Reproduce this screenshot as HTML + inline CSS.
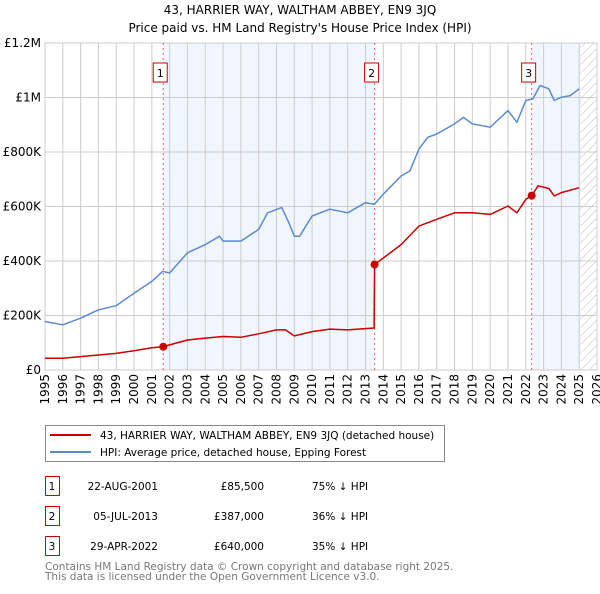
<!DOCTYPE html>
<html><head><meta charset="utf-8">
<style>
body{margin:0;background:#fff;font-family:"DejaVu Sans","Liberation Sans",sans-serif;}
svg text{font-family:"DejaVu Sans","Liberation Sans",sans-serif;}
</style></head>
<body>
<svg id="chart" width="600" height="590" xmlns="http://www.w3.org/2000/svg">
<defs>
<pattern id="hatch" width="6" height="6" patternUnits="userSpaceOnUse" patternTransform="rotate(45)">
<line x1="0" y1="0" x2="0" y2="6" stroke="#bbb" stroke-width="1"/></pattern>
</defs>
<text x="300" y="14" text-anchor="middle" font-size="12">43, HARRIER WAY, WALTHAM ABBEY, EN9 3JQ</text>
<text x="300" y="32" text-anchor="middle" font-size="12">Price paid vs. HM Land Registry's House Price Index (HPI)</text>
<g id="plot"></g>
<g>
<rect x="45.5" y="425.5" width="399" height="36" fill="#fff" stroke="#888"/>
<line x1="50" y1="435" x2="91" y2="435" stroke="#cc0000" stroke-width="2"/>
<text x="100" y="439" font-size="10.5">43, HARRIER WAY, WALTHAM ABBEY, EN9 3JQ (detached house)</text>
<line x1="50" y1="452" x2="91" y2="452" stroke="#5b8bd0" stroke-width="2"/>
<text x="100" y="456" font-size="10.5">HPI: Average price, detached house, Epping Forest</text>
</g>
<g id="table"></g>
<text x="45" y="570" font-size="10.5" fill="#777">Contains HM Land Registry data © Crown copyright and database right 2025.</text>
<text x="45" y="580" font-size="10.5" fill="#777">This data is licensed under the Open Government Licence v3.0.</text>
</svg>
<script>
const hpiYears=[1995,1996,1997,1998,1999,2000,2001,2001.6,2002,2003,2004,2004.8,2005,2006,2007,2007.5,2008.3,2008.7,2009,2009.3,2010,2011,2012,2013,2013.5,2014,2015,2015.5,2016,2016.5,2017,2018,2018.5,2019,2020,2021,2021.5,2022,2022.4,2022.8,2023.3,2023.6,2024,2024.5,2025];
const hpiValues=[178,166,190,221,236,282,325,362,356,430,460,491,473,473,516,577,596,540,491,491,565,590,577,614,608,645,712,731,811,854,866,903,927,903,891,952,909,989,995,1044,1032,989,1001,1007,1032];
const priceYears=[1995,1996,1997,1998,1999,2000,2001,2001.64,2002,2003,2004,2005,2006,2007,2008,2008.5,2009,2010,2011,2012,2013.48,2013.51,2014,2015,2016,2017,2018,2019,2020,2021,2021.5,2022,2022.33,2022.7,2023.3,2023.6,2024,2025];
const priceValues=[43,43,49,55,61,71,82,85.5,92,110,117,123,120,133,147,147,125,141,150,147,154,387,411,460,528,553,577,577,571,602,577,626,640,676,666,639,651,669];
const saleLabels=["1","2","3"];
const saleYears=[2001.64,2013.51,2022.33];
const saleValues=[85.5,387,640];
const saleDates=["22-AUG-2001","05-JUL-2013","29-APR-2022"];
const salePrices=["£85,500","£387,000","£640,000"];
const salePct=["75% ↓ HPI","36% ↓ HPI","35% ↓ HPI"];
const yTicks=[0,200,400,600,800,1000,1200];
const yTickLabels=["£0","£200K","£400K","£600K","£800K","£1M","£1.2M"];
const xTicks=[];for(let y=1995;y<=2026;y++)xTicks.push(y);
const dataEnd=2025.09;

const L=45,R=597,T=43,B=370;
const xs=y=>L+(y-1995)/(2026-1995)*(R-L);
const ys=v=>B-v/1200*(B-T);
const NS="http://www.w3.org/2000/svg";
const plot=document.getElementById('plot');
function mk(tag,attrs,parent){const e=document.createElementNS(NS,tag);for(const k in attrs)e.setAttribute(k,attrs[k]);(parent||plot).appendChild(e);return e;}

const s1=mk('rect',{x:xs(saleYears[0]),y:T,width:xs(saleYears[1])-xs(saleYears[0]),height:B-T,fill:'#eef3fc',opacity:0.8});


const s2=mk('rect',{x:xs(saleYears[2]),y:T,width:xs(dataEnd)-xs(saleYears[2]),height:B-T,fill:'#eef3fc',opacity:0.8});


const hz=mk('rect',{x:xs(dataEnd),y:T,width:R-xs(dataEnd),height:B-T,fill:'url(#hatch)'});



xTicks.forEach(t=>{
 const g=mk('line',{x1:xs(t),x2:xs(t),y1:T,y2:B,stroke:'#ccc','stroke-width':1});
 
 
 const tx=mk('text',{x:0,y:0,'font-size':12,'text-anchor':'end',transform:`translate(${xs(t)+4},${B+4}) rotate(-90)`});
 tx.textContent=t;
 
 
});
yTicks.forEach((t,i)=>{
 const g=mk('line',{x1:L,x2:R,y1:ys(t),y2:ys(t),stroke:'#ccc','stroke-width':1});
 
 
 const tx=mk('text',{x:L-4,y:ys(t)+4,'font-size':12,'text-anchor':'end'});
 tx.textContent=yTickLabels[i];
 
 
});
mk('rect',{x:L,y:T,width:R-L,height:B-T,fill:'none',stroke:'#ccc'});

saleYears.forEach((y,i)=>{
 const l=mk('line',{x1:xs(y),x2:xs(y),y1:T,y2:B,stroke:'#e06060','stroke-width':1,'stroke-dasharray':'2,3'});
 
 
 const b=mk('rect',{x:xs(y)-10,y:63,width:14,height:19,fill:'#fff',stroke:'#cc0000'});
 
 
 const t=mk('text',{x:xs(y)-3,y:77,'font-size':11,'text-anchor':'middle'});
 t.textContent=saleLabels[i];
 
 
});

function path(xa,va,col,name){
 const d=xa.map((x,i)=>(i?'L':'M')+xs(x).toFixed(1)+','+ys(va[i]).toFixed(1)).join('');
 const p=mk('path',{d:d,fill:'none',stroke:col,'stroke-width':1.5,'stroke-linejoin':'round'});
 
 
}
path(hpiYears,hpiValues,'#5b8bd0','hpi-line');
path(priceYears,priceValues,'#cc0000','price-paid-line');
saleYears.forEach((y,i)=>{
 const c=mk('circle',{cx:xs(y),cy:ys(saleValues[i]),r:4,fill:'#cc0000'});
 
 
});

const tb=document.getElementById('table');
saleLabels.forEach((s,i)=>{
 const y0=476+i*30;
 const r=mk('rect',{x:45.5,y:y0+0.5,width:14,height:19,fill:'#fff',stroke:'#cc0000'},tb);
 
 
 const cells=[[52,s,'middle'],[158,saleDates[i],'end'],[264,salePrices[i],'end'],[312,salePct[i],'start']];
 cells.forEach(c=>{
  const t=mk('text',{x:c[0],y:y0+14,'font-size':10.5,'text-anchor':c[2]},tb);
  t.textContent=c[1];
  
  
 });
});
</script>
</body></html>
